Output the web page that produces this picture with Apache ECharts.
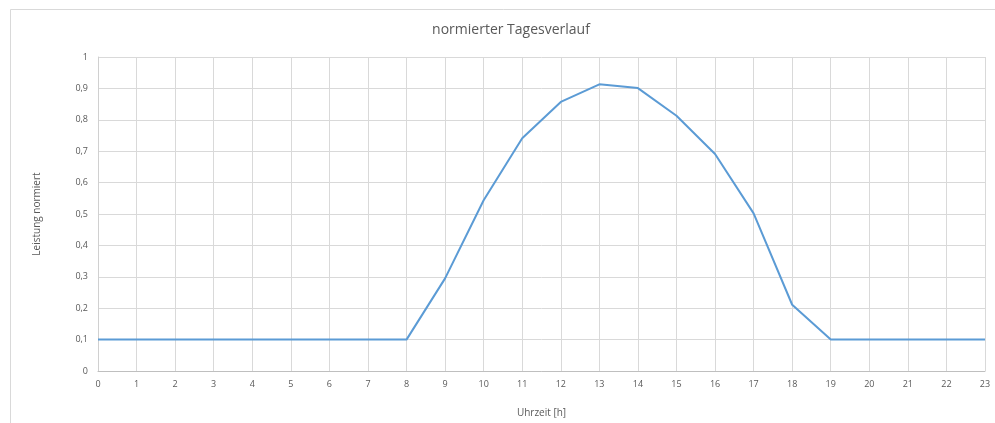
<!DOCTYPE html>
<html>
<head>
<meta charset="utf-8">
<script src="https://cdn.jsdelivr.net/npm/echarts@6/dist/echarts.min.js"></script>
<style>
  html, body { margin: 0; padding: 0; background: #fff; }
  #chart { width: 995px; height: 423px; }
</style>
</head>
<body>
<div id="chart"></div>
<script>
// Stunden des Tages
const hours = ['0','1','2','3','4','5','6','7','8','9','10','11','12','13','14','15','16','17','18','19','20','21','22','23'];
// normierte Leistung je Stunde
const leistung = [0.1, 0.1, 0.1, 0.1, 0.1, 0.1, 0.1, 0.1, 0.1, 0.295, 0.544, 0.741, 0.857, 0.913, 0.901, 0.813, 0.691, 0.502, 0.211, 0.1, 0.1, 0.1, 0.1, 0.1];

const textColor = '#595959';
const fontFam = '"Open Sans", "Liberation Sans", sans-serif';

const chart = echarts.init(document.getElementById('chart'), null, { renderer: 'canvas' });
chart.setOption({
  animation: false,
  backgroundColor: '#ffffff',
  graphic: [{
    type: 'rect',
    shape: { x: 10.5, y: 9.5, width: 1100, height: 600 },
    style: { fill: 'none', stroke: '#d9d9d9', lineWidth: 1 },
    silent: true
  }],
  title: {
    text: 'normierter Tagesverlauf',
    left: 506,
    top: 18,
    textAlign: 'center',
    textStyle: { color: textColor, fontSize: 14, fontWeight: 'normal', fontFamily: fontFam }
  },
  grid: { left: 98, right: 10, top: 57, bottom: 49 },
  xAxis: {
    type: 'category',
    data: hours,
    boundaryGap: false,
    name: 'Uhrzeit [h]',
    nameLocation: 'middle',
    nameGap: 37,
    nameTextStyle: { color: textColor, fontSize: 10, fontFamily: fontFam },
    axisLine: { lineStyle: { color: '#bfbfbf', width: 1 } },
    axisTick: { show: false },
    axisLabel: { color: textColor, fontSize: 9, fontFamily: fontFam, margin: 9, interval: 0 },
    splitLine: { show: true, lineStyle: { color: '#d9d9d9', width: 1 } }
  },
  yAxis: {
    type: 'value',
    min: 0,
    max: 1,
    interval: 0.1,
    name: 'Leistung normiert',
    nameLocation: 'middle',
    nameGap: 56,
    nameRotate: 90,
    nameTextStyle: { color: textColor, fontSize: 10, fontFamily: fontFam },
    axisLine: { show: true, lineStyle: { color: '#d0d0d0', width: 1 } },
    axisTick: { show: false },
    axisLabel: {
      color: textColor, fontSize: 9, fontFamily: fontFam, margin: 10,
      formatter: v => (Math.round(v * 10) / 10).toString().replace('.', ',')
    },
    splitLine: { show: true, lineStyle: { color: '#d9d9d9', width: 1 } }
  },
  series: [{
    type: 'line',
    data: leistung,
    symbol: 'none',
    lineStyle: { color: '#5b9bd5', width: 2 },
    itemStyle: { color: '#5b9bd5' }
  }]
});
</script>
</body>
</html>
